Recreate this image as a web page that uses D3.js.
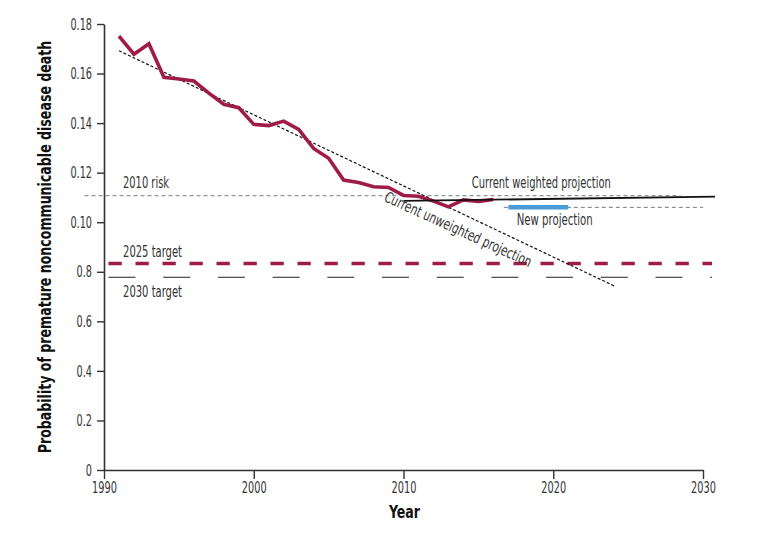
<!DOCTYPE html>
<html>
<head>
<meta charset="utf-8">
<script src="https://cdn.jsdelivr.net/npm/d3@7"></script>
<style>
  body { margin: 0; background: #fff; }
  svg { display: block; }
  text { font-family: "DejaVu Sans Condensed", "DejaVu Sans", sans-serif; font-stretch: condensed; }
</style>
</head>
<body>
<svg id="chart" width="771" height="537"></svg>
<script>
// ---- data ----
const years = [1991,1992,1993,1994,1995,1996,1997,1998,1999,2000,2001,2002,2003,2004,2005,2006,2007,2008,2009,2010,2011,2012,2013,2014,2015,2016];
const observed = [0.1751,0.1678,0.1720,0.1585,0.1578,0.1570,0.1521,0.1476,0.1462,0.1395,0.1390,0.1408,0.1375,0.1298,0.1258,0.1170,0.1160,0.1143,0.1140,0.1108,0.1105,0.1085,0.1062,0.1090,0.1084,0.1092];
const unweightedYears = [1991, 2024.1];
const unweightedValues = [0.1692, 0.0742];
const weightedYears = [2010, 2030.8];
const weightedValues = [0.1086, 0.1103];
const newProjYears = [2017, 2021];
const newProjValue = 0.1060;
const newProjGuideYears = [2016.7, 2030];
const risk2010Years = [1988.7, 2028.5];
const risk2010Value = 0.1107;
const targetYears = [1990.3, 2030.6];
const target2025 = 0.0833;
const target2030 = 0.0778;
const xTicks = [1990, 2000, 2010, 2020, 2030];
const yTicks = [0, 0.02, 0.04, 0.06, 0.08, 0.10, 0.12, 0.14, 0.16, 0.18];
const yTickLabels = ["0","0.2","0.4","0.6","0.8","0.10","0.12","0.14","0.16","0.18"];

// ---- chart ----
const svg = d3.select("#chart");
const x = d3.scaleLinear().domain([1990, 2030]).range([104, 703]);
const y = d3.scaleLinear().domain([0, 0.18]).range([470, 24]);
const red = "#a01c48";
const line = d3.line().x(d => x(d[0])).y(d => y(d[1]));
const textWidth = s => s.split("").reduce((a, c) => a + (c === "." ? 3 : 6.2), 0);

// 2010 risk
svg.append("path")
  .attr("d", line(risk2010Years.map(t => [t, risk2010Value])))
  .attr("fill", "none").attr("stroke", "#7a7a7a").attr("stroke-width", 1)
  .attr("stroke-dasharray", "4,3");

// targets
svg.append("path")
  .attr("d", line(targetYears.map(t => [t, target2030])))
  .attr("fill", "none").attr("stroke", "#222").attr("stroke-width", 1.2)
  .attr("stroke-dasharray", "27,27.7");
svg.append("path")
  .attr("d", line(targetYears.map(t => [t, target2025])))
  .attr("fill", "none").attr("stroke", red).attr("stroke-width", 3.5)
  .attr("stroke-dasharray", "13.3,13.7");

// new projection guide & bar
svg.append("path")
  .attr("d", line(newProjGuideYears.map(t => [t, newProjValue])))
  .attr("fill", "none").attr("stroke", "#7a7a7a").attr("stroke-width", 1)
  .attr("stroke-dasharray", "4,3");
svg.append("path")
  .attr("d", line(newProjYears.map(t => [t, newProjValue])))
  .attr("fill", "none").attr("stroke", "#4b9bd9").attr("stroke-width", 4.5);

// unweighted projection
svg.append("path")
  .attr("d", line(unweightedYears.map((t, i) => [t, unweightedValues[i]])))
  .attr("fill", "none").attr("stroke", "#111").attr("stroke-width", 1.2)
  .attr("stroke-dasharray", "3,2");

// observed
svg.append("path")
  .attr("d", line(years.map((t, i) => [t, observed[i]])))
  .attr("fill", "none").attr("stroke", red).attr("stroke-width", 3.6)
  .attr("stroke-linejoin", "miter");

// weighted projection
svg.append("path")
  .attr("d", line(weightedYears.map((t, i) => [t, weightedValues[i]])))
  .attr("fill", "none").attr("stroke", "#111").attr("stroke-width", 1.8);

// axes
const xAxis = svg.append("g").attr("transform", `translate(0,${y(0)})`)
  .call(d3.axisBottom(x).tickValues(xTicks).tickFormat(d3.format("d")).tickSize(9).tickSizeOuter(0));
const yAxis = svg.append("g").attr("transform", `translate(${x(1990)},0)`)
  .call(d3.axisLeft(y).tickValues(yTicks).tickFormat((d, i) => yTickLabels[i]).tickSize(7).tickSizeOuter(0));
[xAxis, yAxis].forEach(g => {
  g.select(".domain").attr("stroke", "#333").attr("stroke-width", 1.6);
  g.selectAll(".tick line").attr("stroke", "#333").attr("stroke-width", 1.4);
  g.selectAll(".tick text").attr("fill", "#333").style("font-size", "16px")
    .style("font-family", '"DejaVu Sans Condensed", "DejaVu Sans", sans-serif')
    .attr("lengthAdjust", "spacingAndGlyphs")
    .attr("textLength", function () { return textWidth(this.textContent); });
});
xAxis.selectAll(".tick text").attr("dy", "0.85em").attr("y", 9);
yAxis.selectAll(".tick text").attr("x", -12);

// axis titles
svg.append("text").attr("x", x(2010) + 1).attr("y", 518).attr("text-anchor", "middle")
  .style("font-size", "18px").style("font-weight", "bold").attr("fill", "#111")
  .attr("textLength", 31).attr("lengthAdjust", "spacingAndGlyphs").text("Year");
const yTitle = svg.append("text").attr("text-anchor", "middle")
  .style("font-size", "18px").style("font-weight", "bold").attr("fill", "#111")
  .text("Probability of premature noncommunicable disease death");
const natural = yTitle.node().getComputedTextLength();
yTitle.attr("transform", `translate(51,247) rotate(-90) scale(${413 / natural},1)`);

// annotations
const ann = (tx, ty, s, len, rot) => {
  const t = svg.append("text").attr("fill", "#333").style("font-size", "15px")
    .attr("textLength", len).attr("lengthAdjust", "spacingAndGlyphs").text(s);
  t.attr("transform", `translate(${tx},${ty})` + (rot ? ` rotate(${rot})` : ""));
  return t;
};
ann(x(1991.27), y(risk2010Value) - 8, "2010 risk", 46);
ann(x(1991.27), y(target2025) - 7, "2025 target", 59);
ann(x(1991.27), y(target2030) + 20, "2030 target", 59);
ann(x(2019.2), y(weightedValues[0]) - 13, "Current weighted projection", 139).attr("text-anchor", "middle");
ann(x(2020.1), y(newProjValue) + 18, "New projection", 76).attr("text-anchor", "middle");
ann(456, 234, "Current unweighted projection", 160, 24.5).attr("text-anchor", "middle");
</script>
</body>
</html>
